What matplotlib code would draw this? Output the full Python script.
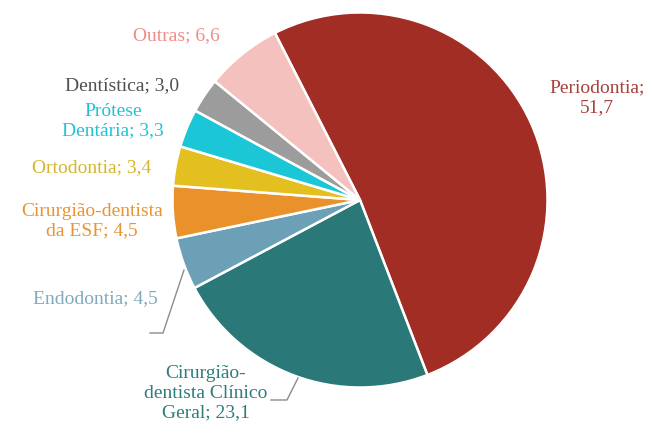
import matplotlib
matplotlib.use("Agg")
import matplotlib.pyplot as plt

# Specialties (clockwise from the top) and their shares in percent
categories = ["Periodontia", "Cirurgião-dentista Clínico Geral", "Endodontia",
              "Cirurgião-dentista da ESF", "Ortodontia", "Prótese Dentária",
              "Dentística", "Outras"]
values = [51.7, 23.1, 4.5, 4.5, 3.4, 3.3, 3.0, 6.6]

slice_colors = ["#A12D25", "#2A7877", "#6CA0B6", "#E9922B",
                "#E3C020", "#1BC7D6", "#9C9C9C", "#F5C1BF"]
label_colors = ["#A8403C", "#2F7D7B", "#7FAABD", "#E9952F",
                "#D6B72A", "#22C2D2", "#505050", "#F08C88"]

# label text broken into lines, and anchor point in pixel space (x, y from top)
label_lines = ["Periodontia;\n{v}", "Cirurgião-\ndentista Clínico\nGeral; {v}",
               "Endodontia; {v}", "Cirurgião-dentista\nda ESF; {v}",
               "Ortodontia; {v}", "Prótese\nDentária; {v}",
               "Dentística; {v}", "Outras; {v}"]
label_pos = [(597, 98), (206, 393), (95, 299), (92, 221),
             (92, 168), (113, 121), (122, 86), (176, 36)]

W, H = 652, 433
CX, CY, R = 360, 200, 187.5


def px(x, y):
    return (x - CX) / R, (CY - y) / R


fig = plt.figure(figsize=(W / 100, H / 100), dpi=100)
ax = fig.add_axes([0, 0, 1, 1])
ax.pie(values, colors=slice_colors, startangle=117, counterclock=False,
       radius=1.0, wedgeprops=dict(edgecolor="white", linewidth=1.8))
ax.set_xlim(-CX / R, (W - CX) / R)
ax.set_ylim((CY - H) / R, CY / R)
ax.set_aspect("equal", adjustable="box")
ax.axis("off")

font = dict(family=["Liberation Serif", "DejaVu Serif"], fontsize=14)
for text, v, (x, y), c in zip(label_lines, values, label_pos, label_colors):
    s = text.format(v=f"{v:.1f}".replace(".", ","))
    ax.text(*px(x, y), s, color=c, ha="center", va="center",
            linespacing=1.18, **font)

# leader lines for the two lower labels
leader_color = "#8C8C8C"
for pts in ([(184, 270), (163, 333), (150, 333)],
            [(298, 378), (287, 400), (271, 400)]):
    xs, ys = zip(*[px(a, b) for a, b in pts])
    ax.plot(xs, ys, color=leader_color, linewidth=1.0)

fig.savefig("out.png", dpi=100)
